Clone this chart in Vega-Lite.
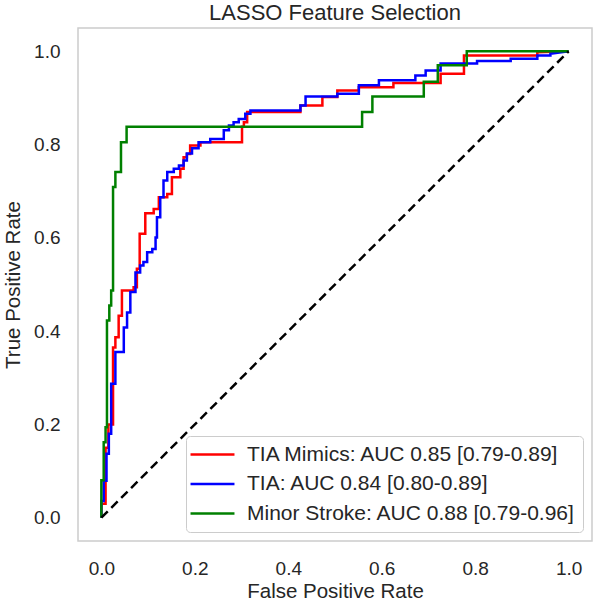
{
  "$schema": "https://vega.github.io/schema/vega-lite/v6.json",
  "autosize": {"type": "none"},
  "padding": {"left": 78, "top": 28, "right": 4, "bottom": 62},
  "width": 514,
  "height": 513,
  "background": "white",
  "title": {"text": "LASSO Feature Selection", "fontSize": 22, "font": "Liberation Sans", "fontWeight": "normal", "color": "#262626", "offset": 3},
  "config": {
    "view": {"stroke": "#cccccc", "strokeWidth": 1.5},
    "font": "Liberation Sans",
    "axis": {"domain": false, "ticks": false, "grid": false, "labelFont": "Liberation Sans", "labelFontSize": 19, "labelColor": "#262626", "titleFont": "Liberation Sans", "titleFontSize": 20.5, "titleFontWeight": "normal", "titleColor": "#262626", "labelPadding": 18},
    "legend": {"orient": "bottom-right", "offset": 9, "fillColor": "white", "strokeColor": "#cccccc", "cornerRadius": 4, "padding": 8, "symbolType": "M-2.93,0L2.93,0", "symbolSize": 225, "symbolOffset": 8, "symbolStrokeWidth": 2.5, "labelFont": "Liberation Sans", "labelFontSize": 21, "labelColor": "#262626", "labelOffset": 24, "rowPadding": 7.5, "labelLimit": 500}
  },
  "datasets": {
    "roc": [
      {"series": "TIA Mimics: AUC 0.85 [0.79-0.89]", "i": 0, "fpr": 0, "tpr": 0},
      {"series": "TIA Mimics: AUC 0.85 [0.79-0.89]", "i": 1, "fpr": 0, "tpr": 0.03},
      {"series": "TIA Mimics: AUC 0.85 [0.79-0.89]", "i": 2, "fpr": 0.009, "tpr": 0.03},
      {"series": "TIA Mimics: AUC 0.85 [0.79-0.89]", "i": 3, "fpr": 0.009, "tpr": 0.15},
      {"series": "TIA Mimics: AUC 0.85 [0.79-0.89]", "i": 4, "fpr": 0.015, "tpr": 0.15},
      {"series": "TIA Mimics: AUC 0.85 [0.79-0.89]", "i": 5, "fpr": 0.015, "tpr": 0.2},
      {"series": "TIA Mimics: AUC 0.85 [0.79-0.89]", "i": 6, "fpr": 0.025, "tpr": 0.2},
      {"series": "TIA Mimics: AUC 0.85 [0.79-0.89]", "i": 7, "fpr": 0.025, "tpr": 0.365},
      {"series": "TIA Mimics: AUC 0.85 [0.79-0.89]", "i": 8, "fpr": 0.03, "tpr": 0.365},
      {"series": "TIA Mimics: AUC 0.85 [0.79-0.89]", "i": 9, "fpr": 0.03, "tpr": 0.387},
      {"series": "TIA Mimics: AUC 0.85 [0.79-0.89]", "i": 10, "fpr": 0.037, "tpr": 0.387},
      {"series": "TIA Mimics: AUC 0.85 [0.79-0.89]", "i": 11, "fpr": 0.037, "tpr": 0.433},
      {"series": "TIA Mimics: AUC 0.85 [0.79-0.89]", "i": 12, "fpr": 0.044, "tpr": 0.433},
      {"series": "TIA Mimics: AUC 0.85 [0.79-0.89]", "i": 13, "fpr": 0.044, "tpr": 0.487},
      {"series": "TIA Mimics: AUC 0.85 [0.79-0.89]", "i": 14, "fpr": 0.069, "tpr": 0.487},
      {"series": "TIA Mimics: AUC 0.85 [0.79-0.89]", "i": 15, "fpr": 0.069, "tpr": 0.494},
      {"series": "TIA Mimics: AUC 0.85 [0.79-0.89]", "i": 16, "fpr": 0.076, "tpr": 0.494},
      {"series": "TIA Mimics: AUC 0.85 [0.79-0.89]", "i": 17, "fpr": 0.076, "tpr": 0.534},
      {"series": "TIA Mimics: AUC 0.85 [0.79-0.89]", "i": 18, "fpr": 0.082, "tpr": 0.534},
      {"series": "TIA Mimics: AUC 0.85 [0.79-0.89]", "i": 19, "fpr": 0.082, "tpr": 0.609},
      {"series": "TIA Mimics: AUC 0.85 [0.79-0.89]", "i": 20, "fpr": 0.094, "tpr": 0.609},
      {"series": "TIA Mimics: AUC 0.85 [0.79-0.89]", "i": 21, "fpr": 0.094, "tpr": 0.653},
      {"series": "TIA Mimics: AUC 0.85 [0.79-0.89]", "i": 22, "fpr": 0.112, "tpr": 0.653},
      {"series": "TIA Mimics: AUC 0.85 [0.79-0.89]", "i": 23, "fpr": 0.112, "tpr": 0.662},
      {"series": "TIA Mimics: AUC 0.85 [0.79-0.89]", "i": 24, "fpr": 0.123, "tpr": 0.662},
      {"series": "TIA Mimics: AUC 0.85 [0.79-0.89]", "i": 25, "fpr": 0.123, "tpr": 0.687},
      {"series": "TIA Mimics: AUC 0.85 [0.79-0.89]", "i": 26, "fpr": 0.141, "tpr": 0.687},
      {"series": "TIA Mimics: AUC 0.85 [0.79-0.89]", "i": 27, "fpr": 0.141, "tpr": 0.694},
      {"series": "TIA Mimics: AUC 0.85 [0.79-0.89]", "i": 28, "fpr": 0.151, "tpr": 0.694},
      {"series": "TIA Mimics: AUC 0.85 [0.79-0.89]", "i": 29, "fpr": 0.151, "tpr": 0.73},
      {"series": "TIA Mimics: AUC 0.85 [0.79-0.89]", "i": 30, "fpr": 0.169, "tpr": 0.73},
      {"series": "TIA Mimics: AUC 0.85 [0.79-0.89]", "i": 31, "fpr": 0.169, "tpr": 0.748},
      {"series": "TIA Mimics: AUC 0.85 [0.79-0.89]", "i": 32, "fpr": 0.176, "tpr": 0.748},
      {"series": "TIA Mimics: AUC 0.85 [0.79-0.89]", "i": 33, "fpr": 0.176, "tpr": 0.773},
      {"series": "TIA Mimics: AUC 0.85 [0.79-0.89]", "i": 34, "fpr": 0.183, "tpr": 0.773},
      {"series": "TIA Mimics: AUC 0.85 [0.79-0.89]", "i": 35, "fpr": 0.183, "tpr": 0.78},
      {"series": "TIA Mimics: AUC 0.85 [0.79-0.89]", "i": 36, "fpr": 0.19, "tpr": 0.78},
      {"series": "TIA Mimics: AUC 0.85 [0.79-0.89]", "i": 37, "fpr": 0.19, "tpr": 0.798},
      {"series": "TIA Mimics: AUC 0.85 [0.79-0.89]", "i": 38, "fpr": 0.212, "tpr": 0.798},
      {"series": "TIA Mimics: AUC 0.85 [0.79-0.89]", "i": 39, "fpr": 0.212, "tpr": 0.805},
      {"series": "TIA Mimics: AUC 0.85 [0.79-0.89]", "i": 40, "fpr": 0.301, "tpr": 0.805},
      {"series": "TIA Mimics: AUC 0.85 [0.79-0.89]", "i": 41, "fpr": 0.301, "tpr": 0.838},
      {"series": "TIA Mimics: AUC 0.85 [0.79-0.89]", "i": 42, "fpr": 0.305, "tpr": 0.838},
      {"series": "TIA Mimics: AUC 0.85 [0.79-0.89]", "i": 43, "fpr": 0.305, "tpr": 0.848},
      {"series": "TIA Mimics: AUC 0.85 [0.79-0.89]", "i": 44, "fpr": 0.312, "tpr": 0.848},
      {"series": "TIA Mimics: AUC 0.85 [0.79-0.89]", "i": 45, "fpr": 0.312, "tpr": 0.87},
      {"series": "TIA Mimics: AUC 0.85 [0.79-0.89]", "i": 46, "fpr": 0.426, "tpr": 0.87},
      {"series": "TIA Mimics: AUC 0.85 [0.79-0.89]", "i": 47, "fpr": 0.426, "tpr": 0.884},
      {"series": "TIA Mimics: AUC 0.85 [0.79-0.89]", "i": 48, "fpr": 0.473, "tpr": 0.884},
      {"series": "TIA Mimics: AUC 0.85 [0.79-0.89]", "i": 49, "fpr": 0.473, "tpr": 0.902},
      {"series": "TIA Mimics: AUC 0.85 [0.79-0.89]", "i": 50, "fpr": 0.505, "tpr": 0.902},
      {"series": "TIA Mimics: AUC 0.85 [0.79-0.89]", "i": 51, "fpr": 0.505, "tpr": 0.916},
      {"series": "TIA Mimics: AUC 0.85 [0.79-0.89]", "i": 52, "fpr": 0.551, "tpr": 0.916},
      {"series": "TIA Mimics: AUC 0.85 [0.79-0.89]", "i": 53, "fpr": 0.551, "tpr": 0.923},
      {"series": "TIA Mimics: AUC 0.85 [0.79-0.89]", "i": 54, "fpr": 0.625, "tpr": 0.923},
      {"series": "TIA Mimics: AUC 0.85 [0.79-0.89]", "i": 55, "fpr": 0.625, "tpr": 0.932},
      {"series": "TIA Mimics: AUC 0.85 [0.79-0.89]", "i": 56, "fpr": 0.726, "tpr": 0.932},
      {"series": "TIA Mimics: AUC 0.85 [0.79-0.89]", "i": 57, "fpr": 0.726, "tpr": 0.952},
      {"series": "TIA Mimics: AUC 0.85 [0.79-0.89]", "i": 58, "fpr": 0.776, "tpr": 0.952},
      {"series": "TIA Mimics: AUC 0.85 [0.79-0.89]", "i": 59, "fpr": 0.776, "tpr": 0.991},
      {"series": "TIA Mimics: AUC 0.85 [0.79-0.89]", "i": 60, "fpr": 0.933, "tpr": 0.991},
      {"series": "TIA Mimics: AUC 0.85 [0.79-0.89]", "i": 61, "fpr": 0.933, "tpr": 0.998},
      {"series": "TIA Mimics: AUC 0.85 [0.79-0.89]", "i": 62, "fpr": 1, "tpr": 1},
      {"series": "TIA: AUC 0.84 [0.80-0.89]", "i": 0, "fpr": 0, "tpr": 0},
      {"series": "TIA: AUC 0.84 [0.80-0.89]", "i": 1, "fpr": 0, "tpr": 0.036},
      {"series": "TIA: AUC 0.84 [0.80-0.89]", "i": 2, "fpr": 0.005, "tpr": 0.036},
      {"series": "TIA: AUC 0.84 [0.80-0.89]", "i": 3, "fpr": 0.005, "tpr": 0.079},
      {"series": "TIA: AUC 0.84 [0.80-0.89]", "i": 4, "fpr": 0.011, "tpr": 0.079},
      {"series": "TIA: AUC 0.84 [0.80-0.89]", "i": 5, "fpr": 0.011, "tpr": 0.137},
      {"series": "TIA: AUC 0.84 [0.80-0.89]", "i": 6, "fpr": 0.016, "tpr": 0.137},
      {"series": "TIA: AUC 0.84 [0.80-0.89]", "i": 7, "fpr": 0.016, "tpr": 0.18},
      {"series": "TIA: AUC 0.84 [0.80-0.89]", "i": 8, "fpr": 0.021, "tpr": 0.18},
      {"series": "TIA: AUC 0.84 [0.80-0.89]", "i": 9, "fpr": 0.021, "tpr": 0.287},
      {"series": "TIA: AUC 0.84 [0.80-0.89]", "i": 10, "fpr": 0.03, "tpr": 0.287},
      {"series": "TIA: AUC 0.84 [0.80-0.89]", "i": 11, "fpr": 0.03, "tpr": 0.355},
      {"series": "TIA: AUC 0.84 [0.80-0.89]", "i": 12, "fpr": 0.048, "tpr": 0.355},
      {"series": "TIA: AUC 0.84 [0.80-0.89]", "i": 13, "fpr": 0.048, "tpr": 0.408},
      {"series": "TIA: AUC 0.84 [0.80-0.89]", "i": 14, "fpr": 0.055, "tpr": 0.408},
      {"series": "TIA: AUC 0.84 [0.80-0.89]", "i": 15, "fpr": 0.055, "tpr": 0.44},
      {"series": "TIA: AUC 0.84 [0.80-0.89]", "i": 16, "fpr": 0.062, "tpr": 0.44},
      {"series": "TIA: AUC 0.84 [0.80-0.89]", "i": 17, "fpr": 0.062, "tpr": 0.484},
      {"series": "TIA: AUC 0.84 [0.80-0.89]", "i": 18, "fpr": 0.073, "tpr": 0.484},
      {"series": "TIA: AUC 0.84 [0.80-0.89]", "i": 19, "fpr": 0.073, "tpr": 0.526},
      {"series": "TIA: AUC 0.84 [0.80-0.89]", "i": 20, "fpr": 0.083, "tpr": 0.526},
      {"series": "TIA: AUC 0.84 [0.80-0.89]", "i": 21, "fpr": 0.083, "tpr": 0.541},
      {"series": "TIA: AUC 0.84 [0.80-0.89]", "i": 22, "fpr": 0.09, "tpr": 0.541},
      {"series": "TIA: AUC 0.84 [0.80-0.89]", "i": 23, "fpr": 0.09, "tpr": 0.548},
      {"series": "TIA: AUC 0.84 [0.80-0.89]", "i": 24, "fpr": 0.098, "tpr": 0.548},
      {"series": "TIA: AUC 0.84 [0.80-0.89]", "i": 25, "fpr": 0.098, "tpr": 0.569},
      {"series": "TIA: AUC 0.84 [0.80-0.89]", "i": 26, "fpr": 0.109, "tpr": 0.569},
      {"series": "TIA: AUC 0.84 [0.80-0.89]", "i": 27, "fpr": 0.109, "tpr": 0.576},
      {"series": "TIA: AUC 0.84 [0.80-0.89]", "i": 28, "fpr": 0.116, "tpr": 0.576},
      {"series": "TIA: AUC 0.84 [0.80-0.89]", "i": 29, "fpr": 0.116, "tpr": 0.601},
      {"series": "TIA: AUC 0.84 [0.80-0.89]", "i": 30, "fpr": 0.119, "tpr": 0.601},
      {"series": "TIA: AUC 0.84 [0.80-0.89]", "i": 31, "fpr": 0.119, "tpr": 0.644},
      {"series": "TIA: AUC 0.84 [0.80-0.89]", "i": 32, "fpr": 0.126, "tpr": 0.644},
      {"series": "TIA: AUC 0.84 [0.80-0.89]", "i": 33, "fpr": 0.126, "tpr": 0.687},
      {"series": "TIA: AUC 0.84 [0.80-0.89]", "i": 34, "fpr": 0.133, "tpr": 0.687},
      {"series": "TIA: AUC 0.84 [0.80-0.89]", "i": 35, "fpr": 0.133, "tpr": 0.723},
      {"series": "TIA: AUC 0.84 [0.80-0.89]", "i": 36, "fpr": 0.141, "tpr": 0.723},
      {"series": "TIA: AUC 0.84 [0.80-0.89]", "i": 37, "fpr": 0.141, "tpr": 0.741},
      {"series": "TIA: AUC 0.84 [0.80-0.89]", "i": 38, "fpr": 0.155, "tpr": 0.741},
      {"series": "TIA: AUC 0.84 [0.80-0.89]", "i": 39, "fpr": 0.155, "tpr": 0.748},
      {"series": "TIA: AUC 0.84 [0.80-0.89]", "i": 40, "fpr": 0.166, "tpr": 0.748},
      {"series": "TIA: AUC 0.84 [0.80-0.89]", "i": 41, "fpr": 0.166, "tpr": 0.755},
      {"series": "TIA: AUC 0.84 [0.80-0.89]", "i": 42, "fpr": 0.176, "tpr": 0.755},
      {"series": "TIA: AUC 0.84 [0.80-0.89]", "i": 43, "fpr": 0.176, "tpr": 0.766},
      {"series": "TIA: AUC 0.84 [0.80-0.89]", "i": 44, "fpr": 0.183, "tpr": 0.766},
      {"series": "TIA: AUC 0.84 [0.80-0.89]", "i": 45, "fpr": 0.183, "tpr": 0.781},
      {"series": "TIA: AUC 0.84 [0.80-0.89]", "i": 46, "fpr": 0.194, "tpr": 0.781},
      {"series": "TIA: AUC 0.84 [0.80-0.89]", "i": 47, "fpr": 0.194, "tpr": 0.792},
      {"series": "TIA: AUC 0.84 [0.80-0.89]", "i": 48, "fpr": 0.208, "tpr": 0.792},
      {"series": "TIA: AUC 0.84 [0.80-0.89]", "i": 49, "fpr": 0.208, "tpr": 0.805},
      {"series": "TIA: AUC 0.84 [0.80-0.89]", "i": 50, "fpr": 0.233, "tpr": 0.805},
      {"series": "TIA: AUC 0.84 [0.80-0.89]", "i": 51, "fpr": 0.233, "tpr": 0.812},
      {"series": "TIA: AUC 0.84 [0.80-0.89]", "i": 52, "fpr": 0.262, "tpr": 0.812},
      {"series": "TIA: AUC 0.84 [0.80-0.89]", "i": 53, "fpr": 0.262, "tpr": 0.831},
      {"series": "TIA: AUC 0.84 [0.80-0.89]", "i": 54, "fpr": 0.273, "tpr": 0.831},
      {"series": "TIA: AUC 0.84 [0.80-0.89]", "i": 55, "fpr": 0.273, "tpr": 0.841},
      {"series": "TIA: AUC 0.84 [0.80-0.89]", "i": 56, "fpr": 0.283, "tpr": 0.841},
      {"series": "TIA: AUC 0.84 [0.80-0.89]", "i": 57, "fpr": 0.283, "tpr": 0.848},
      {"series": "TIA: AUC 0.84 [0.80-0.89]", "i": 58, "fpr": 0.294, "tpr": 0.848},
      {"series": "TIA: AUC 0.84 [0.80-0.89]", "i": 59, "fpr": 0.294, "tpr": 0.855},
      {"series": "TIA: AUC 0.84 [0.80-0.89]", "i": 60, "fpr": 0.308, "tpr": 0.855},
      {"series": "TIA: AUC 0.84 [0.80-0.89]", "i": 61, "fpr": 0.308, "tpr": 0.866},
      {"series": "TIA: AUC 0.84 [0.80-0.89]", "i": 62, "fpr": 0.319, "tpr": 0.866},
      {"series": "TIA: AUC 0.84 [0.80-0.89]", "i": 63, "fpr": 0.319, "tpr": 0.873},
      {"series": "TIA: AUC 0.84 [0.80-0.89]", "i": 64, "fpr": 0.426, "tpr": 0.873},
      {"series": "TIA: AUC 0.84 [0.80-0.89]", "i": 65, "fpr": 0.426, "tpr": 0.884},
      {"series": "TIA: AUC 0.84 [0.80-0.89]", "i": 66, "fpr": 0.437, "tpr": 0.884},
      {"series": "TIA: AUC 0.84 [0.80-0.89]", "i": 67, "fpr": 0.437, "tpr": 0.903},
      {"series": "TIA: AUC 0.84 [0.80-0.89]", "i": 68, "fpr": 0.505, "tpr": 0.903},
      {"series": "TIA: AUC 0.84 [0.80-0.89]", "i": 69, "fpr": 0.505, "tpr": 0.909},
      {"series": "TIA: AUC 0.84 [0.80-0.89]", "i": 70, "fpr": 0.551, "tpr": 0.909},
      {"series": "TIA: AUC 0.84 [0.80-0.89]", "i": 71, "fpr": 0.551, "tpr": 0.927},
      {"series": "TIA: AUC 0.84 [0.80-0.89]", "i": 72, "fpr": 0.594, "tpr": 0.927},
      {"series": "TIA: AUC 0.84 [0.80-0.89]", "i": 73, "fpr": 0.594, "tpr": 0.938},
      {"series": "TIA: AUC 0.84 [0.80-0.89]", "i": 74, "fpr": 0.672, "tpr": 0.938},
      {"series": "TIA: AUC 0.84 [0.80-0.89]", "i": 75, "fpr": 0.672, "tpr": 0.948},
      {"series": "TIA: AUC 0.84 [0.80-0.89]", "i": 76, "fpr": 0.694, "tpr": 0.948},
      {"series": "TIA: AUC 0.84 [0.80-0.89]", "i": 77, "fpr": 0.694, "tpr": 0.959},
      {"series": "TIA: AUC 0.84 [0.80-0.89]", "i": 78, "fpr": 0.726, "tpr": 0.959},
      {"series": "TIA: AUC 0.84 [0.80-0.89]", "i": 79, "fpr": 0.726, "tpr": 0.974},
      {"series": "TIA: AUC 0.84 [0.80-0.89]", "i": 80, "fpr": 0.804, "tpr": 0.974},
      {"series": "TIA: AUC 0.84 [0.80-0.89]", "i": 81, "fpr": 0.804, "tpr": 0.979},
      {"series": "TIA: AUC 0.84 [0.80-0.89]", "i": 82, "fpr": 0.876, "tpr": 0.979},
      {"series": "TIA: AUC 0.84 [0.80-0.89]", "i": 83, "fpr": 0.876, "tpr": 0.984},
      {"series": "TIA: AUC 0.84 [0.80-0.89]", "i": 84, "fpr": 0.933, "tpr": 0.984},
      {"series": "TIA: AUC 0.84 [0.80-0.89]", "i": 85, "fpr": 0.933, "tpr": 0.991},
      {"series": "TIA: AUC 0.84 [0.80-0.89]", "i": 86, "fpr": 0.961, "tpr": 0.991},
      {"series": "TIA: AUC 0.84 [0.80-0.89]", "i": 87, "fpr": 0.961, "tpr": 0.995},
      {"series": "TIA: AUC 0.84 [0.80-0.89]", "i": 88, "fpr": 1, "tpr": 1},
      {"series": "Minor Stroke: AUC 0.88 [0.79-0.96]", "i": 0, "fpr": 0, "tpr": 0},
      {"series": "Minor Stroke: AUC 0.88 [0.79-0.96]", "i": 1, "fpr": 0, "tpr": 0.08},
      {"series": "Minor Stroke: AUC 0.88 [0.79-0.96]", "i": 2, "fpr": 0.005, "tpr": 0.08},
      {"series": "Minor Stroke: AUC 0.88 [0.79-0.96]", "i": 3, "fpr": 0.005, "tpr": 0.162},
      {"series": "Minor Stroke: AUC 0.88 [0.79-0.96]", "i": 4, "fpr": 0.009, "tpr": 0.162},
      {"series": "Minor Stroke: AUC 0.88 [0.79-0.96]", "i": 5, "fpr": 0.009, "tpr": 0.194},
      {"series": "Minor Stroke: AUC 0.88 [0.79-0.96]", "i": 6, "fpr": 0.012, "tpr": 0.194},
      {"series": "Minor Stroke: AUC 0.88 [0.79-0.96]", "i": 7, "fpr": 0.012, "tpr": 0.423},
      {"series": "Minor Stroke: AUC 0.88 [0.79-0.96]", "i": 8, "fpr": 0.017, "tpr": 0.423},
      {"series": "Minor Stroke: AUC 0.88 [0.79-0.96]", "i": 9, "fpr": 0.017, "tpr": 0.455},
      {"series": "Minor Stroke: AUC 0.88 [0.79-0.96]", "i": 10, "fpr": 0.021, "tpr": 0.455},
      {"series": "Minor Stroke: AUC 0.88 [0.79-0.96]", "i": 11, "fpr": 0.021, "tpr": 0.487},
      {"series": "Minor Stroke: AUC 0.88 [0.79-0.96]", "i": 12, "fpr": 0.025, "tpr": 0.487},
      {"series": "Minor Stroke: AUC 0.88 [0.79-0.96]", "i": 13, "fpr": 0.025, "tpr": 0.709},
      {"series": "Minor Stroke: AUC 0.88 [0.79-0.96]", "i": 14, "fpr": 0.03, "tpr": 0.709},
      {"series": "Minor Stroke: AUC 0.88 [0.79-0.96]", "i": 15, "fpr": 0.03, "tpr": 0.741},
      {"series": "Minor Stroke: AUC 0.88 [0.79-0.96]", "i": 16, "fpr": 0.042, "tpr": 0.741},
      {"series": "Minor Stroke: AUC 0.88 [0.79-0.96]", "i": 17, "fpr": 0.042, "tpr": 0.805},
      {"series": "Minor Stroke: AUC 0.88 [0.79-0.96]", "i": 18, "fpr": 0.054, "tpr": 0.805},
      {"series": "Minor Stroke: AUC 0.88 [0.79-0.96]", "i": 19, "fpr": 0.054, "tpr": 0.838},
      {"series": "Minor Stroke: AUC 0.88 [0.79-0.96]", "i": 20, "fpr": 0.558, "tpr": 0.838},
      {"series": "Minor Stroke: AUC 0.88 [0.79-0.96]", "i": 21, "fpr": 0.558, "tpr": 0.87},
      {"series": "Minor Stroke: AUC 0.88 [0.79-0.96]", "i": 22, "fpr": 0.58, "tpr": 0.87},
      {"series": "Minor Stroke: AUC 0.88 [0.79-0.96]", "i": 23, "fpr": 0.58, "tpr": 0.903},
      {"series": "Minor Stroke: AUC 0.88 [0.79-0.96]", "i": 24, "fpr": 0.69, "tpr": 0.903},
      {"series": "Minor Stroke: AUC 0.88 [0.79-0.96]", "i": 25, "fpr": 0.69, "tpr": 0.935},
      {"series": "Minor Stroke: AUC 0.88 [0.79-0.96]", "i": 26, "fpr": 0.72, "tpr": 0.935},
      {"series": "Minor Stroke: AUC 0.88 [0.79-0.96]", "i": 27, "fpr": 0.72, "tpr": 0.97},
      {"series": "Minor Stroke: AUC 0.88 [0.79-0.96]", "i": 28, "fpr": 0.782, "tpr": 0.97},
      {"series": "Minor Stroke: AUC 0.88 [0.79-0.96]", "i": 29, "fpr": 0.782, "tpr": 1},
      {"series": "Minor Stroke: AUC 0.88 [0.79-0.96]", "i": 30, "fpr": 1, "tpr": 1}
    ],
    "diag": [
      {"fpr": 0, "tpr": 0},
      {"fpr": 1, "tpr": 1}
    ]
  },
  "layer": [
    {
      "data": {"name": "roc"},
      "mark": {"type": "line", "strokeWidth": 2.5, "clip": true},
      "encoding": {
        "x": {"field": "fpr", "type": "quantitative", "scale": {"domain": [-0.05, 1.05], "nice": false, "zero": false}, "axis": {"values": [0, 0.2, 0.4, 0.6, 0.8, 1.0], "format": ".1f", "title": "False Positive Rate", "titlePadding": 3}},
        "y": {"field": "tpr", "type": "quantitative", "scale": {"domain": [-0.05, 1.05], "nice": false, "zero": false}, "axis": {"values": [0, 0.2, 0.4, 0.6, 0.8, 1.0], "format": ".1f", "title": "True Positive Rate", "titlePadding": 10}},
        "color": {"field": "series", "type": "nominal", "scale": {"domain": ["TIA Mimics: AUC 0.85 [0.79-0.89]", "TIA: AUC 0.84 [0.80-0.89]", "Minor Stroke: AUC 0.88 [0.79-0.96]"], "range": ["#ff0000", "#0000ff", "#008000"]}, "legend": {"title": null}},
        "order": {"field": "i", "type": "quantitative"}
      }
    },
    {
      "data": {"name": "diag"},
      "mark": {"type": "line", "strokeWidth": 2.5, "strokeDash": [9, 5], "color": "black"},
      "encoding": {
        "x": {"field": "fpr", "type": "quantitative"},
        "y": {"field": "tpr", "type": "quantitative"}
      }
    }
  ]
}
